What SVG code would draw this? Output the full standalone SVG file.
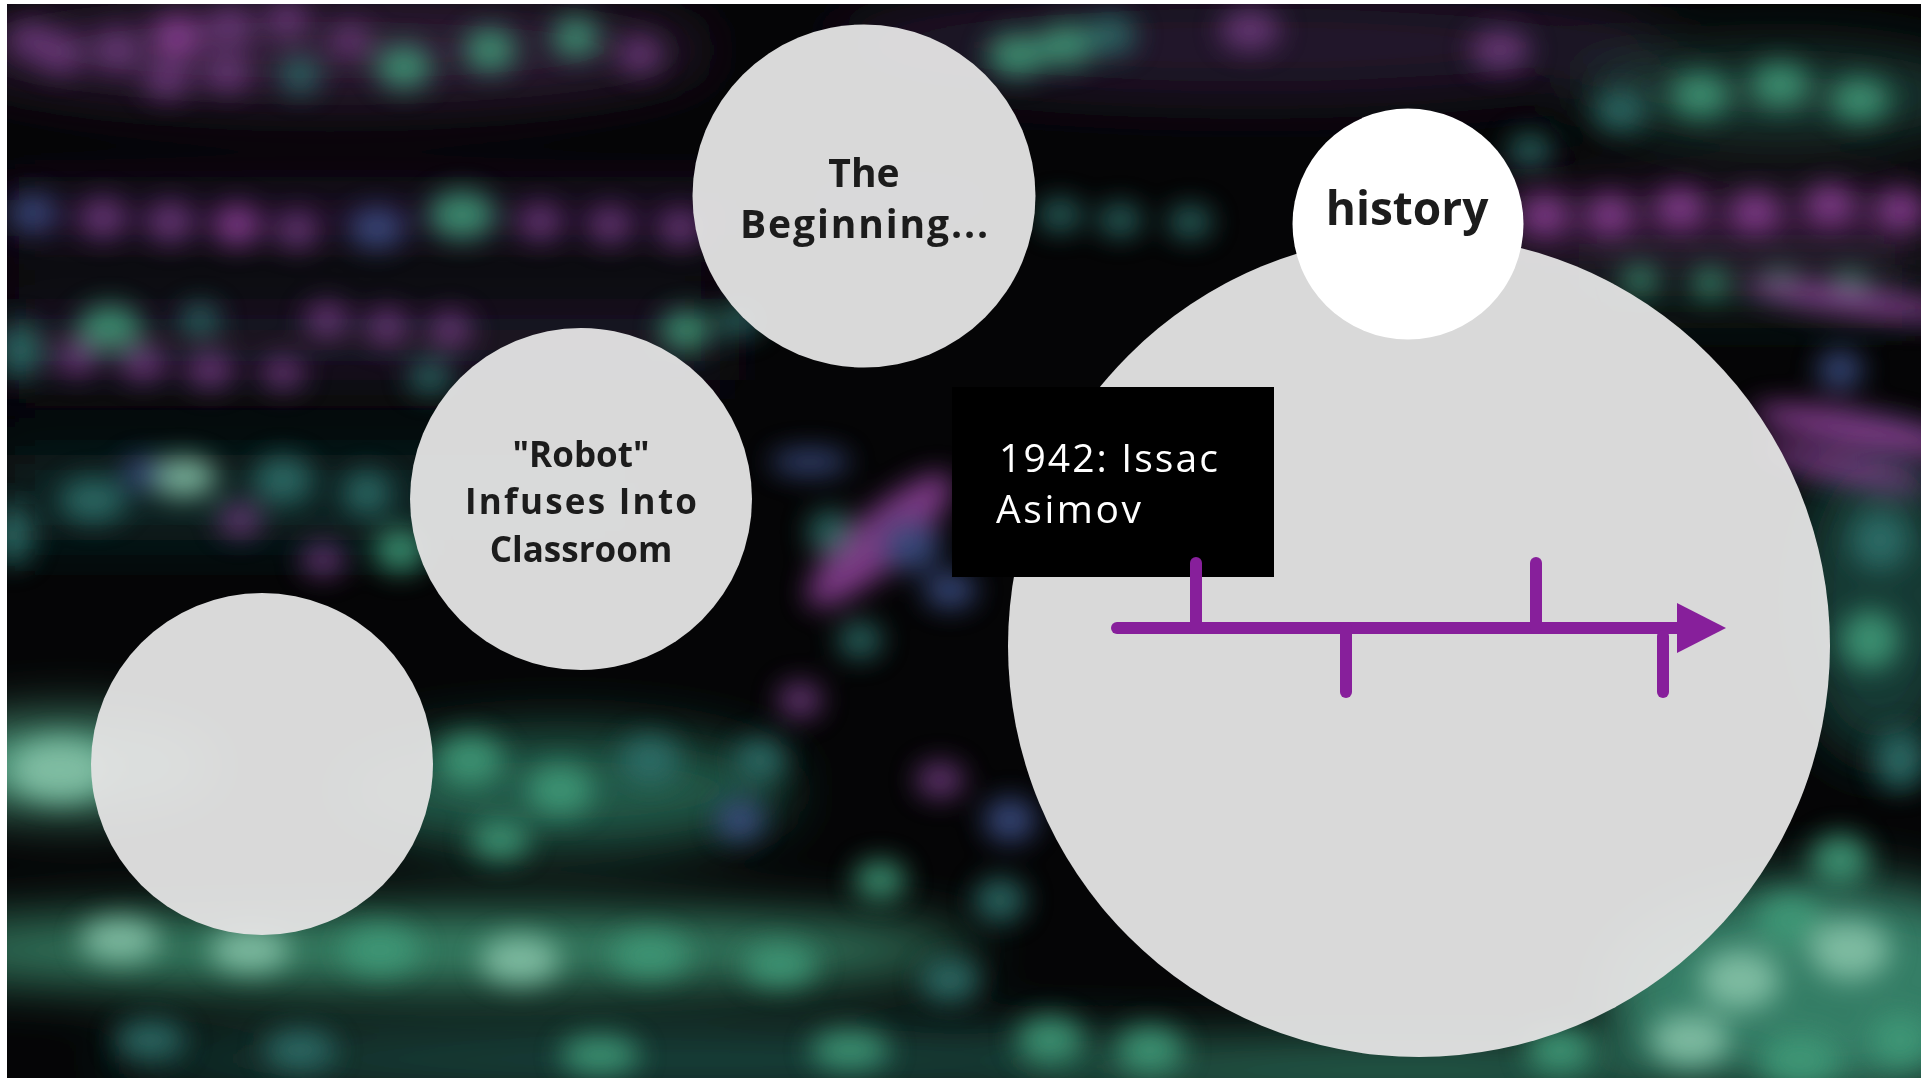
<svg xmlns="http://www.w3.org/2000/svg" width="1921" height="1078" viewBox="0 0 1921 1078">
  <defs>
    <filter id="blurBig" x="-20%" y="-20%" width="140%" height="140%">
      <feGaussianBlur stdDeviation="28"/>
    </filter>
    <filter id="blurDot" x="-50%" y="-50%" width="200%" height="200%">
      <feGaussianBlur stdDeviation="14"/>
    </filter>
    <clipPath id="frame">
      <rect x="7" y="4" width="1914" height="1074"/>
    </clipPath>
    <style>
      .bubble { fill: #e2e2e2; fill-opacity: 0.96; }
      .hist { fill: #ffffff; }
      .label { font-family: "Open Sans", "Liberation Sans", sans-serif; font-weight: 700; fill: #1c1c1c; text-anchor: middle; }
      .boxtxt { font-family: "Open Sans", "Liberation Sans", sans-serif; font-weight: 400; fill: #ffffff; font-size: 39px; }
      .tl { stroke: #871f9b; stroke-width: 12; stroke-linecap: round; fill: none; }
      .pu { fill: #6e3a7e; }
      .pp { fill: #8a3f94; }
      .gr { fill: #3f9a78; }
      .tg { fill: #2f6f6a; }
      .bl { fill: #3e4f86; }
      .pg { fill: #86c2a8; }
    </style>
  </defs>

  <rect x="0" y="0" width="1921" height="1078" fill="#ffffff"/>

  <g id="background" clip-path="url(#frame)">
    <rect x="7" y="4" width="1914" height="1074" fill="#050506"/>
    <g filter="url(#blurBig)">
      <ellipse cx="330" cy="50" rx="380" ry="55" fill="#2e1a34"/>
      <ellipse cx="1250" cy="45" rx="420" ry="55" fill="#24182a"/>
      <ellipse cx="1780" cy="95" rx="200" ry="45" fill="#1e3a34"/>
      <rect x="0" y="195" width="760" height="45" fill="#261530"/>
      <rect x="1480" y="195" width="441" height="55" fill="#3a1a40"/>
      <rect x="0" y="300" width="720" height="80" fill="#1c1426"/>
      <rect x="1560" y="270" width="361" height="40" fill="#142a26"/>
      <rect x="0" y="455" width="640" height="85" fill="#0f2628"/>
      <ellipse cx="70" cy="765" rx="150" ry="45" fill="#4f9e80"/>
      <ellipse cx="560" cy="790" rx="230" ry="60" fill="#245a4a"/>
      <ellipse cx="420" cy="950" rx="560" ry="38" fill="#3a8a6c"/>
      <ellipse cx="700" cy="1060" rx="600" ry="30" fill="#1e4e44"/>
      <ellipse cx="1820" cy="990" rx="220" ry="110" fill="#347e66"/>
      <ellipse cx="1400" cy="1070" rx="400" ry="30" fill="#2a6a56"/>
      <ellipse cx="1880" cy="600" rx="90" ry="160" fill="#173a36"/>
      <ellipse cx="900" cy="200" rx="120" ry="30" fill="#1a1428"/>
    </g>
    <g filter="url(#blurDot)" opacity="0.9">
      <!-- top row -->
      <ellipse class="pu" cx="30" cy="40" rx="22" ry="18"/>
      <ellipse class="pu" cx="60" cy="53" rx="24" ry="20"/>
      <ellipse class="pu" cx="117" cy="50" rx="24" ry="20"/>
      <ellipse class="pp" cx="177" cy="37" rx="26" ry="22"/>
      <ellipse class="pu" cx="230" cy="27" rx="24" ry="20"/>
      <ellipse class="pu" cx="167" cy="80" rx="24" ry="18"/>
      <ellipse class="pu" cx="227" cy="73" rx="24" ry="18"/>
      <ellipse class="pu" cx="287" cy="20" rx="22" ry="18"/>
      <ellipse class="tg" cx="300" cy="75" rx="20" ry="18"/>
      <ellipse class="gr" cx="404" cy="67" rx="28" ry="22"/>
      <ellipse class="gr" cx="490" cy="50" rx="26" ry="22"/>
      <ellipse class="gr" cx="576" cy="37" rx="24" ry="20"/>
      <ellipse class="pu" cx="350" cy="40" rx="20" ry="16"/>
      <ellipse class="pu" cx="640" cy="55" rx="22" ry="18"/>
      <ellipse class="gr" cx="1017" cy="55" rx="30" ry="22"/>
      <ellipse class="gr" cx="1066" cy="45" rx="28" ry="22"/>
      <ellipse class="tg" cx="1110" cy="35" rx="26" ry="20"/>
      <ellipse class="pu" cx="1250" cy="30" rx="30" ry="20"/>
      <ellipse class="pu" cx="1500" cy="50" rx="30" ry="20"/>
      <ellipse class="gr" cx="1700" cy="95" rx="30" ry="22"/>
      <ellipse class="gr" cx="1780" cy="85" rx="30" ry="22"/>
      <ellipse class="gr" cx="1860" cy="100" rx="30" ry="22"/>
      <ellipse class="tg" cx="1620" cy="110" rx="26" ry="20"/>
      <!-- row 215 -->
      <ellipse class="bl" cx="33" cy="213" rx="24" ry="18"/>
      <ellipse class="pu" cx="103" cy="218" rx="24" ry="20"/>
      <ellipse class="pu" cx="170" cy="222" rx="24" ry="20"/>
      <ellipse class="pp" cx="237" cy="225" rx="24" ry="20"/>
      <ellipse class="pu" cx="297" cy="230" rx="22" ry="18"/>
      <ellipse class="bl" cx="377" cy="228" rx="28" ry="20"/>
      <ellipse class="gr" cx="462" cy="215" rx="34" ry="24"/>
      <ellipse class="pu" cx="540" cy="222" rx="22" ry="18"/>
      <ellipse class="pu" cx="610" cy="225" rx="22" ry="18"/>
      <ellipse class="pu" cx="680" cy="228" rx="22" ry="18"/>
      <ellipse class="tg" cx="1060" cy="215" rx="22" ry="16"/>
      <ellipse class="tg" cx="1120" cy="220" rx="22" ry="16"/>
      <ellipse class="tg" cx="1190" cy="222" rx="22" ry="16"/>
      <ellipse class="pp" cx="1545" cy="215" rx="24" ry="20"/>
      <ellipse class="pp" cx="1610" cy="215" rx="24" ry="20"/>
      <ellipse class="pp" cx="1680" cy="208" rx="26" ry="20"/>
      <ellipse class="pp" cx="1755" cy="212" rx="26" ry="20"/>
      <ellipse class="pp" cx="1830" cy="205" rx="26" ry="20"/>
      <ellipse class="pp" cx="1900" cy="210" rx="26" ry="20"/>
      <ellipse class="tg" cx="1530" cy="150" rx="22" ry="16"/>
      <!-- row 330 -->
      <ellipse class="tg" cx="20" cy="350" rx="22" ry="28"/>
      <ellipse class="gr" cx="110" cy="327" rx="32" ry="22"/>
      <ellipse class="pu" cx="77" cy="357" rx="22" ry="18"/>
      <ellipse class="pu" cx="143" cy="363" rx="24" ry="18"/>
      <ellipse class="pu" cx="210" cy="370" rx="24" ry="18"/>
      <ellipse class="tg" cx="200" cy="320" rx="20" ry="16"/>
      <ellipse class="pu" cx="327" cy="320" rx="22" ry="18"/>
      <ellipse class="pu" cx="387" cy="327" rx="22" ry="18"/>
      <ellipse class="pu" cx="450" cy="330" rx="22" ry="18"/>
      <ellipse class="pu" cx="283" cy="373" rx="22" ry="16"/>
      <ellipse class="tg" cx="430" cy="377" rx="22" ry="16"/>
      <ellipse class="gr" cx="686" cy="330" rx="26" ry="20"/>
      <ellipse class="tg" cx="740" cy="320" rx="22" ry="16"/>
      <ellipse class="gr" cx="1640" cy="280" rx="18" ry="14"/>
      <ellipse class="gr" cx="1710" cy="283" rx="18" ry="14"/>
      <ellipse class="gr" cx="1780" cy="283" rx="18" ry="14"/>
      <ellipse class="gr" cx="1850" cy="285" rx="18" ry="14"/>
      <!-- row 480 -->
      <ellipse class="tg" cx="93" cy="500" rx="34" ry="22"/>
      <ellipse class="pg" cx="183" cy="477" rx="34" ry="20"/>
      <ellipse class="tg" cx="283" cy="480" rx="30" ry="24"/>
      <ellipse class="tg" cx="367" cy="493" rx="24" ry="22"/>
      <ellipse class="bl" cx="143" cy="473" rx="20" ry="16"/>
      <ellipse class="tg" cx="13" cy="535" rx="20" ry="30"/>
      <ellipse class="gr" cx="400" cy="550" rx="26" ry="22"/>
      <ellipse class="pu" cx="323" cy="560" rx="22" ry="16"/>
      <ellipse class="pu" cx="240" cy="520" rx="22" ry="16"/>
      <!-- middle area -->
      <ellipse class="pp" cx="880" cy="540" rx="95" ry="28" transform="rotate(-42 880 540)"/>
      <ellipse class="bl" cx="910" cy="545" rx="30" ry="26"/>
      <ellipse class="tg" cx="830" cy="532" rx="22" ry="22"/>
      <ellipse class="bl" cx="810" cy="462" rx="40" ry="12"/>
      <ellipse class="bl" cx="950" cy="590" rx="26" ry="18"/>
      <ellipse class="pu" cx="800" cy="700" rx="22" ry="18"/>
      <ellipse class="tg" cx="860" cy="640" rx="22" ry="18"/>
      <ellipse class="tg" cx="760" cy="760" rx="26" ry="22"/>
      <ellipse class="pu" cx="940" cy="780" rx="24" ry="18"/>
      <ellipse class="bl" cx="1010" cy="820" rx="26" ry="22"/>
      <ellipse class="tg" cx="1000" cy="900" rx="26" ry="22"/>
      <ellipse class="gr" cx="880" cy="880" rx="26" ry="20"/>
      <ellipse class="tg" cx="950" cy="980" rx="30" ry="22"/>
      <!-- right side -->
      <ellipse class="pp" cx="1850" cy="300" rx="110" ry="14" transform="rotate(8 1850 300)"/>
      <ellipse class="pp" cx="1860" cy="430" rx="110" ry="18" transform="rotate(10 1860 430)"/>
      <ellipse class="pp" cx="1840" cy="468" rx="90" ry="12" transform="rotate(12 1840 468)"/>
      <ellipse class="bl" cx="1840" cy="370" rx="22" ry="20"/>
      <ellipse class="tg" cx="1880" cy="540" rx="30" ry="30"/>
      <ellipse class="gr" cx="1870" cy="640" rx="30" ry="30"/>
      <ellipse class="tg" cx="1900" cy="760" rx="26" ry="30"/>
      <ellipse class="gr" cx="1840" cy="860" rx="30" ry="26"/>
      <!-- lower left -->
      <ellipse class="pg" cx="60" cy="770" rx="50" ry="30"/>
      <ellipse class="gr" cx="470" cy="760" rx="34" ry="26"/>
      <ellipse class="gr" cx="560" cy="790" rx="34" ry="26"/>
      <ellipse class="tg" cx="650" cy="760" rx="30" ry="24"/>
      <ellipse class="gr" cx="500" cy="840" rx="30" ry="20"/>
      <ellipse class="bl" cx="740" cy="820" rx="24" ry="20"/>
      <ellipse class="pg" cx="120" cy="940" rx="40" ry="22"/>
      <ellipse class="pg" cx="250" cy="950" rx="40" ry="22"/>
      <ellipse class="gr" cx="380" cy="950" rx="40" ry="24"/>
      <ellipse class="pg" cx="520" cy="960" rx="40" ry="24"/>
      <ellipse class="gr" cx="650" cy="955" rx="40" ry="22"/>
      <ellipse class="gr" cx="780" cy="965" rx="38" ry="22"/>
      <ellipse class="tg" cx="150" cy="1040" rx="36" ry="20"/>
      <ellipse class="tg" cx="300" cy="1050" rx="36" ry="20"/>
      <ellipse class="gr" cx="600" cy="1055" rx="40" ry="20"/>
      <ellipse class="gr" cx="850" cy="1050" rx="40" ry="20"/>
      <!-- lower right -->
      <ellipse class="gr" cx="1050" cy="1040" rx="34" ry="24"/>
      <ellipse class="gr" cx="1150" cy="1050" rx="34" ry="24"/>
      <ellipse class="gr" cx="1560" cy="1050" rx="34" ry="24"/>
      <ellipse class="pg" cx="1690" cy="1040" rx="40" ry="26"/>
      <ellipse class="pg" cx="1850" cy="950" rx="40" ry="30"/>
      <ellipse class="pg" cx="1740" cy="980" rx="40" ry="30"/>
      <ellipse class="gr" cx="1800" cy="1060" rx="40" ry="26"/>
      <ellipse class="gr" cx="1900" cy="1040" rx="30" ry="26"/>
      <ellipse class="gr" cx="1790" cy="920" rx="34" ry="26"/>
    </g>
  </g>

  <g id="node-blank">
    <circle class="bubble" cx="262" cy="764" r="171"/>
  </g>

  <g id="node-robot">
    <circle class="bubble" cx="581" cy="499" r="171"/>
    <text class="label" font-size="35" x="581" y="467">"Robot"</text>
    <text class="label" font-size="35" x="581" y="514" textLength="232" lengthAdjust="spacing">Infuses Into</text>
    <text class="label" font-size="35" x="581" y="562">Classroom</text>
  </g>

  <g id="node-beginning">
    <circle class="bubble" cx="864" cy="196" r="171.5"/>
    <text class="label" font-size="39" x="864" y="187">The</text>
    <text class="label" font-size="39" x="864" y="238" textLength="248" lengthAdjust="spacing">Beginning...</text>
  </g>

  <g id="node-history-area">
    <circle class="bubble" cx="1419" cy="646" r="411"/>
  </g>

  <g id="node-history">
    <circle class="hist" cx="1408" cy="224" r="115.5"/>
    <text class="label" font-size="46" x="1407" y="225">history</text>
  </g>

  <g id="node-1942">
    <rect x="952" y="387" width="322" height="190" fill="#000000"/>
    <text class="boxtxt" x="999" y="472" textLength="219" lengthAdjust="spacing">1942: Issac</text>
    <text class="boxtxt" x="996" y="523" textLength="145" lengthAdjust="spacing">Asimov</text>
  </g>

  <g id="timeline">
    <line class="tl" x1="1117" y1="628" x2="1682" y2="628"/>
    <line class="tl" x1="1196" y1="563" x2="1196" y2="628"/>
    <line class="tl" x1="1346" y1="628" x2="1346" y2="692"/>
    <line class="tl" x1="1536" y1="563" x2="1536" y2="628"/>
    <line class="tl" x1="1663" y1="636" x2="1663" y2="692"/>
    <polygon points="1677,603 1726,628 1677,653" fill="#871f9b"/>
  </g>
</svg>
